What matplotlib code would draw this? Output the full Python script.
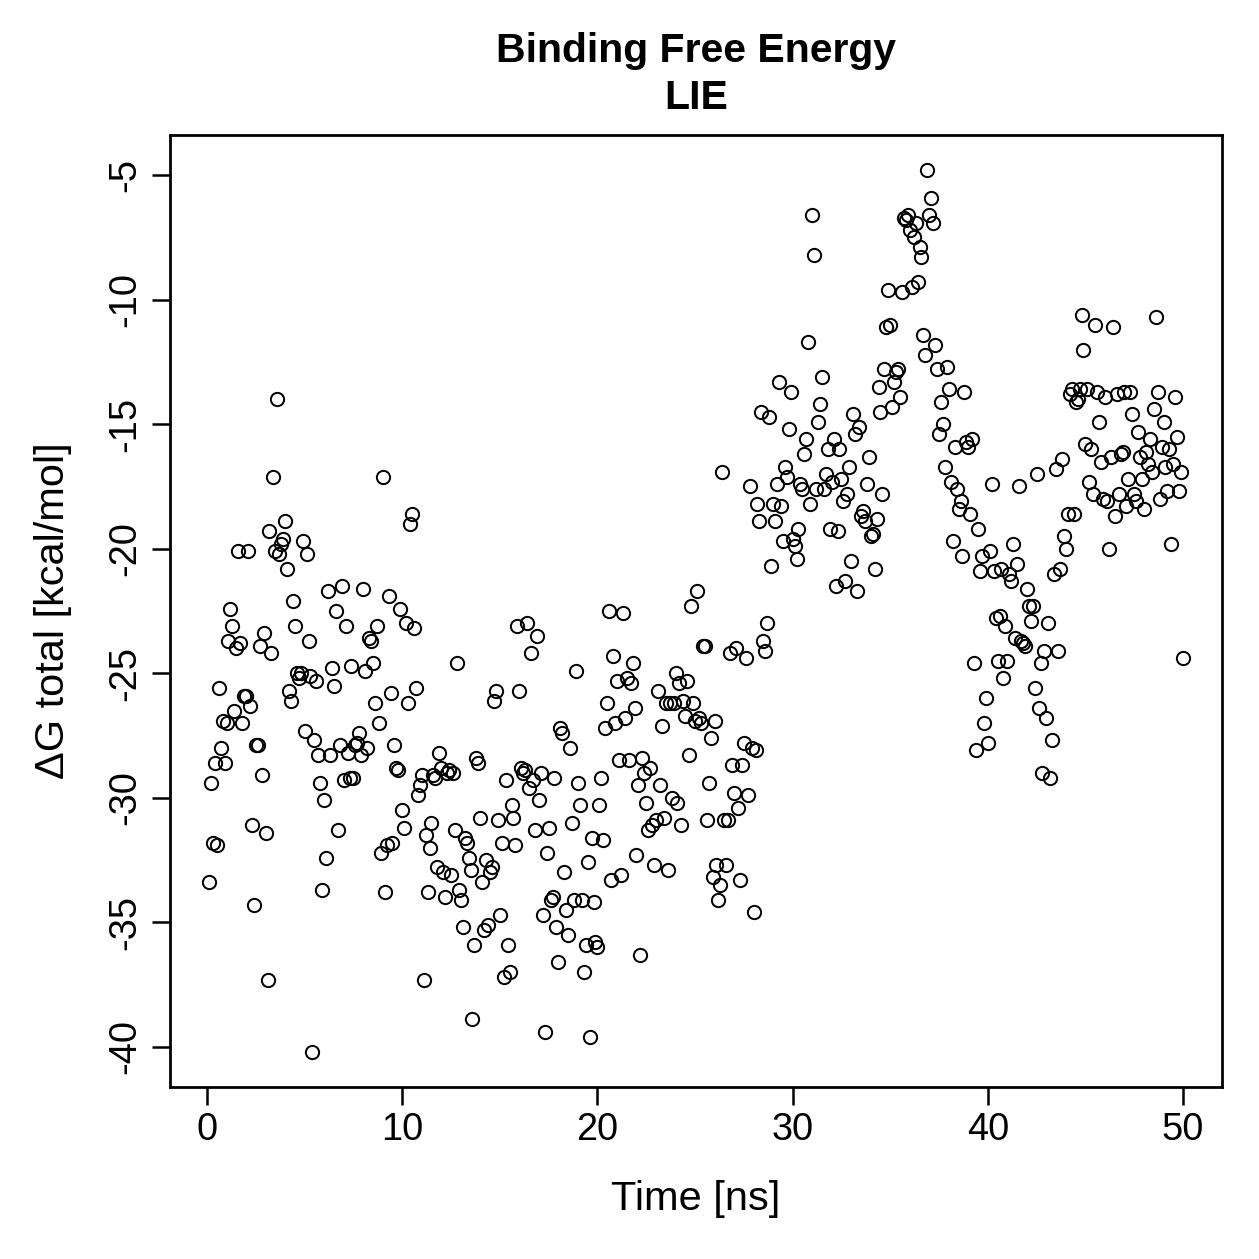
import numpy as np
import matplotlib
matplotlib.use("Agg")
import matplotlib.pyplot as plt

# LIE binding free energy vs simulation time
t_00_10 = [0.1, 0.2, 0.3, 0.4, 0.5, 0.6, 0.7, 0.8, 0.9, 1.0,
           1.1, 1.2, 1.3, 1.4, 1.5, 1.6, 1.7, 1.8, 1.9, 2.0,
           2.1, 2.2, 2.3, 2.4, 2.5, 2.6, 2.7, 2.8, 2.9, 3.0,
           3.1, 3.2, 3.3, 3.4, 3.5, 3.6, 3.7, 3.8, 3.9, 4.0,
           4.1, 4.2, 4.3, 4.4, 4.5, 4.6, 4.7, 4.8, 4.9, 5.0,
           5.1, 5.2, 5.3, 5.4, 5.5, 5.6, 5.7, 5.8, 5.9, 6.0,
           6.1, 6.2, 6.3, 6.4, 6.5, 6.6, 6.7, 6.8, 6.9, 7.0,
           7.1, 7.2, 7.3, 7.4, 7.5, 7.6, 7.7, 7.8, 7.9, 8.0,
           8.1, 8.2, 8.3, 8.4, 8.5, 8.6, 8.7, 8.8, 8.9, 9.0,
           9.1, 9.2, 9.3, 9.4, 9.5, 9.6, 9.7, 9.8, 9.9, 10.0]
dg_00_10 = [-33.4, -29.4, -31.8, -28.6, -31.9, -25.6, -28.0, -26.9, -28.6, -27.0,
            -23.7, -22.4, -23.1, -26.5, -24.0, -20.1, -23.8, -27.0, -25.9, -25.9,
            -20.1, -26.3, -31.1, -34.3, -27.9, -27.9, -23.9, -29.1, -23.4, -31.4,
            -37.3, -19.3, -24.2, -17.1, -20.1, -14.0, -20.2, -19.8, -19.6, -18.9,
            -20.8, -25.7, -26.1, -22.1, -23.1, -25.0, -25.2, -25.0, -19.7, -27.3,
            -20.2, -23.7, -25.1, -40.2, -27.7, -25.3, -28.3, -29.4, -33.7, -30.1,
            -32.4, -21.7, -28.3, -24.8, -25.5, -22.5, -31.3, -27.9, -21.5, -29.3,
            -23.1, -28.2, -29.2, -24.7, -29.2, -27.9, -27.8, -27.4, -28.3, -21.6,
            -24.9, -28.0, -23.6, -23.7, -24.6, -26.2, -23.1, -27.0, -32.2, -17.1,
            -33.8, -31.9, -21.9, -25.8, -31.8, -27.9, -28.8, -28.9, -22.4, -30.5]

t_10_20 = [10.1, 10.2, 10.3, 10.4, 10.5, 10.6, 10.7, 10.8, 10.9, 11.0,
           11.1, 11.2, 11.3, 11.4, 11.5, 11.6, 11.7, 11.8, 11.9, 12.0,
           12.1, 12.2, 12.3, 12.4, 12.5, 12.6, 12.7, 12.8, 12.9, 13.0,
           13.1, 13.2, 13.3, 13.4, 13.5, 13.6, 13.7, 13.8, 13.9, 14.0,
           14.1, 14.2, 14.3, 14.4, 14.5, 14.6, 14.7, 14.8, 14.9, 15.0,
           15.1, 15.2, 15.3, 15.4, 15.5, 15.6, 15.7, 15.8, 15.9, 16.0,
           16.1, 16.2, 16.3, 16.4, 16.5, 16.6, 16.7, 16.8, 16.9, 17.0,
           17.1, 17.2, 17.3, 17.4, 17.5, 17.6, 17.7, 17.8, 17.9, 18.0,
           18.1, 18.2, 18.3, 18.4, 18.5, 18.6, 18.7, 18.8, 18.9, 19.0,
           19.1, 19.2, 19.3, 19.4, 19.5, 19.6, 19.7, 19.8, 19.9, 20.0]
dg_10_20 = [-31.2, -23.0, -26.2, -19.0, -18.6, -23.2, -25.6, -29.9, -29.5, -29.1,
            -37.3, -31.5, -33.8, -32.0, -31.0, -29.1, -29.2, -32.8, -28.2, -28.8,
            -33.0, -34.0, -29.0, -28.9, -33.1, -29.0, -31.3, -24.6, -33.7, -34.1,
            -35.2, -31.6, -31.8, -32.4, -32.9, -38.9, -35.9, -28.4, -28.6, -30.8,
            -33.4, -35.3, -32.5, -35.1, -33.0, -32.8, -26.1, -25.7, -30.9, -34.7,
            -31.8, -37.2, -29.3, -35.9, -37.0, -30.3, -30.8, -31.9, -23.1, -25.7,
            -28.8, -29.0, -28.9, -23.0, -29.6, -24.2, -29.3, -31.3, -23.5, -30.1,
            -29.0, -34.7, -39.4, -32.2, -31.2, -34.1, -34.0, -29.2, -35.2, -36.6,
            -27.2, -27.4, -33.0, -34.5, -35.5, -28.0, -31.0, -34.1, -24.9, -29.4,
            -30.3, -34.1, -37.0, -35.9, -32.6, -39.6, -31.6, -34.2, -35.8, -36.0]

t_20_30 = [20.1, 20.2, 20.3, 20.4, 20.5, 20.6, 20.7, 20.8, 20.9, 21.0,
           21.1, 21.2, 21.3, 21.4, 21.5, 21.6, 21.7, 21.8, 21.9, 22.0,
           22.1, 22.2, 22.3, 22.4, 22.5, 22.6, 22.7, 22.8, 22.9, 23.0,
           23.1, 23.2, 23.3, 23.4, 23.5, 23.6, 23.7, 23.8, 23.9, 24.0,
           24.1, 24.2, 24.3, 24.4, 24.5, 24.6, 24.7, 24.8, 24.9, 25.0,
           25.1, 25.2, 25.3, 25.4, 25.5, 25.6, 25.7, 25.8, 25.9, 26.0,
           26.1, 26.2, 26.3, 26.4, 26.5, 26.6, 26.7, 26.8, 26.9, 27.0,
           27.1, 27.2, 27.3, 27.4, 27.5, 27.6, 27.7, 27.8, 27.9, 28.0,
           28.1, 28.2, 28.3, 28.4, 28.5, 28.6, 28.7, 28.8, 28.9, 29.0,
           29.1, 29.2, 29.3, 29.4, 29.5, 29.6, 29.7, 29.8, 29.9, 30.0]
dg_20_30 = [-30.3, -29.2, -31.7, -27.2, -26.2, -22.5, -33.3, -24.3, -27.0, -25.3,
            -28.5, -33.1, -22.6, -26.8, -25.2, -28.5, -25.4, -24.6, -26.4, -32.3,
            -29.5, -36.3, -28.4, -29.0, -30.2, -31.3, -28.8, -31.1, -32.7, -30.9,
            -25.7, -29.5, -27.1, -30.8, -26.2, -32.9, -26.2, -30.0, -26.2, -25.0,
            -30.2, -25.4, -31.1, -26.1, -26.7, -25.3, -28.3, -22.3, -26.2, -26.9,
            -21.7, -26.8, -27.0, -23.9, -23.9, -30.9, -29.4, -27.6, -33.2, -26.9,
            -32.7, -34.1, -33.5, -16.9, -30.9, -32.7, -30.9, -24.2, -28.7, -29.8,
            -24.0, -30.4, -33.3, -28.7, -27.8, -24.4, -29.9, -17.5, -28.0, -34.6,
            -28.1, -18.2, -18.9, -14.5, -23.7, -24.1, -23.0, -14.7, -20.7, -18.2,
            -18.9, -17.4, -13.3, -18.3, -19.7, -16.7, -17.1, -15.2, -13.7, -19.6]

t_30_40 = [30.1, 30.2, 30.3, 30.4, 30.5, 30.6, 30.7, 30.8, 30.9, 31.0,
           31.1, 31.2, 31.3, 31.4, 31.5, 31.6, 31.7, 31.8, 31.9, 32.0,
           32.1, 32.2, 32.3, 32.4, 32.5, 32.6, 32.7, 32.8, 32.9, 33.0,
           33.1, 33.2, 33.3, 33.4, 33.5, 33.6, 33.7, 33.8, 33.9, 34.0,
           34.1, 34.2, 34.3, 34.4, 34.5, 34.6, 34.7, 34.8, 34.9, 35.0,
           35.1, 35.2, 35.3, 35.4, 35.5, 35.6, 35.7, 35.8, 35.9, 36.0,
           36.1, 36.2, 36.3, 36.4, 36.5, 36.6, 36.7, 36.8, 36.9, 37.0,
           37.1, 37.2, 37.3, 37.4, 37.5, 37.6, 37.7, 37.8, 37.9, 38.0,
           38.1, 38.2, 38.3, 38.4, 38.5, 38.6, 38.7, 38.8, 38.9, 39.0,
           39.1, 39.2, 39.3, 39.4, 39.5, 39.6, 39.7, 39.8, 39.9, 40.0]
dg_30_40 = [-19.9, -20.4, -19.2, -17.4, -17.6, -16.2, -15.6, -11.7, -18.2, -6.6,
            -8.2, -17.6, -14.9, -14.2, -13.1, -17.6, -17.0, -16.0, -19.2, -17.3,
            -15.6, -21.5, -19.3, -16.0, -17.2, -18.1, -21.3, -17.8, -16.7, -20.5,
            -14.6, -15.4, -21.7, -15.1, -18.7, -18.5, -18.9, -17.4, -16.3, -19.5,
            -19.4, -20.8, -18.8, -13.5, -14.5, -17.8, -12.8, -11.1, -9.6, -11.0,
            -14.3, -13.3, -12.9, -12.8, -13.9, -9.7, -6.7, -6.8, -6.6, -7.2,
            -9.5, -7.5, -6.9, -9.3, -7.9, -8.3, -11.4, -12.2, -4.8, -6.6,
            -5.9, -6.9, -11.8, -12.8, -15.4, -14.1, -15.0, -16.7, -12.7, -13.6,
            -17.3, -19.7, -15.9, -17.6, -18.4, -18.1, -20.3, -13.7, -15.7, -15.9,
            -18.6, -15.6, -24.6, -28.1, -19.2, -20.9, -20.3, -27.0, -26.0, -27.8]

t_40_50 = [40.1, 40.2, 40.3, 40.4, 40.5, 40.6, 40.7, 40.8, 40.9, 41.0,
           41.1, 41.2, 41.3, 41.4, 41.5, 41.6, 41.7, 41.8, 41.9, 42.0,
           42.1, 42.2, 42.3, 42.4, 42.5, 42.6, 42.7, 42.8, 42.9, 43.0,
           43.1, 43.2, 43.3, 43.4, 43.5, 43.6, 43.7, 43.8, 43.9, 44.0,
           44.1, 44.2, 44.3, 44.4, 44.5, 44.6, 44.7, 44.8, 44.9, 45.0,
           45.1, 45.2, 45.3, 45.4, 45.5, 45.6, 45.7, 45.8, 45.9, 46.0,
           46.1, 46.2, 46.3, 46.4, 46.5, 46.6, 46.7, 46.8, 46.9, 47.0,
           47.1, 47.2, 47.3, 47.4, 47.5, 47.6, 47.7, 47.8, 47.9, 48.0,
           48.1, 48.2, 48.3, 48.4, 48.5, 48.6, 48.7, 48.8, 48.9, 49.0,
           49.1, 49.2, 49.3, 49.4, 49.5, 49.6, 49.7, 49.8, 49.9, 50.0]
dg_40_50 = [-20.1, -17.4, -20.9, -22.8, -24.5, -22.7, -20.8, -25.2, -23.1, -24.5,
            -21.0, -21.3, -19.8, -23.6, -20.6, -17.5, -23.7, -23.8, -23.9, -21.6,
            -22.3, -22.9, -22.3, -25.6, -17.0, -26.4, -24.6, -29.0, -24.1, -26.8,
            -23.0, -29.2, -27.7, -21.0, -16.8, -24.1, -20.8, -16.4, -19.5, -20.0,
            -18.6, -13.8, -13.6, -18.6, -14.1, -14.0, -13.6, -10.6, -12.0, -15.8,
            -13.6, -17.3, -16.0, -17.8, -11.0, -13.7, -14.9, -16.5, -18.0, -13.9,
            -18.1, -20.0, -16.3, -11.1, -18.7, -13.8, -17.8, -16.2, -16.1, -13.7,
            -18.3, -17.2, -13.7, -14.6, -17.8, -18.1, -15.3, -16.3, -17.2, -18.4,
            -16.1, -16.6, -15.6, -16.9, -14.4, -10.7, -13.7, -18.0, -15.9, -14.9,
            -16.7, -17.7, -16.0, -19.8, -16.6, -13.9, -15.5, -17.7, -16.9, -24.4]

time = np.array(t_00_10 + t_10_20 + t_20_30 + t_30_40 + t_40_50)
dg = np.array(dg_00_10 + dg_10_20 + dg_20_30 + dg_30_40 + dg_40_50)

plt.rcParams["font.family"] = ["Liberation Sans", "DejaVu Sans"]
plt.rcParams["axes.unicode_minus"] = False

DPI = 180
fig = plt.figure(figsize=(1259 / DPI, 1259 / DPI), dpi=DPI)
ax = fig.add_axes([170 / 1259, 1 - 1087 / 1259, 1052 / 1259, 952 / 1259])

ax.plot(time, dg, ls="none", marker="o", ms=5.3, mfc="none", mec="black", mew=0.8)

# R style 4% padding around the data range
xr = time.max() - time.min()
yr = dg.max() - dg.min()
ax.set_xlim(time.min() - 0.04 * xr, time.max() + 0.04 * xr)
ax.set_ylim(dg.min() - 0.04 * yr, dg.max() + 0.04 * yr)

ax.set_xticks([0, 10, 20, 30, 40, 50])
ax.set_yticks([-40, -35, -30, -25, -20, -15, -10, -5])
ax.tick_params(direction="out", length=7.2, width=1.0, labelsize=15.2, pad=3.0, color="black")
ax.tick_params(axis="y", labelrotation=90, pad=3.5)
for lbl in ax.get_yticklabels():
    lbl.set_va("center")
for sp in ax.spines.values():
    sp.set_linewidth(1.1)

ax.set_xlabel("Time [ns]", fontsize=16.6)
ax.xaxis.set_label_coords(0.5, -(1180 - 1087) / 952)
ax.set_ylabel("ΔG total [kcal/mol]", fontsize=16.6)
ax.yaxis.set_label_coords(-(170 - 72) / 1052, 0.5)

ax.set_title("Binding Free Energy\nLIE", fontsize=16.4, fontweight="bold", linespacing=1.3, pad=10.5)

plt.savefig("out.png", dpi=DPI)
plt.close()
